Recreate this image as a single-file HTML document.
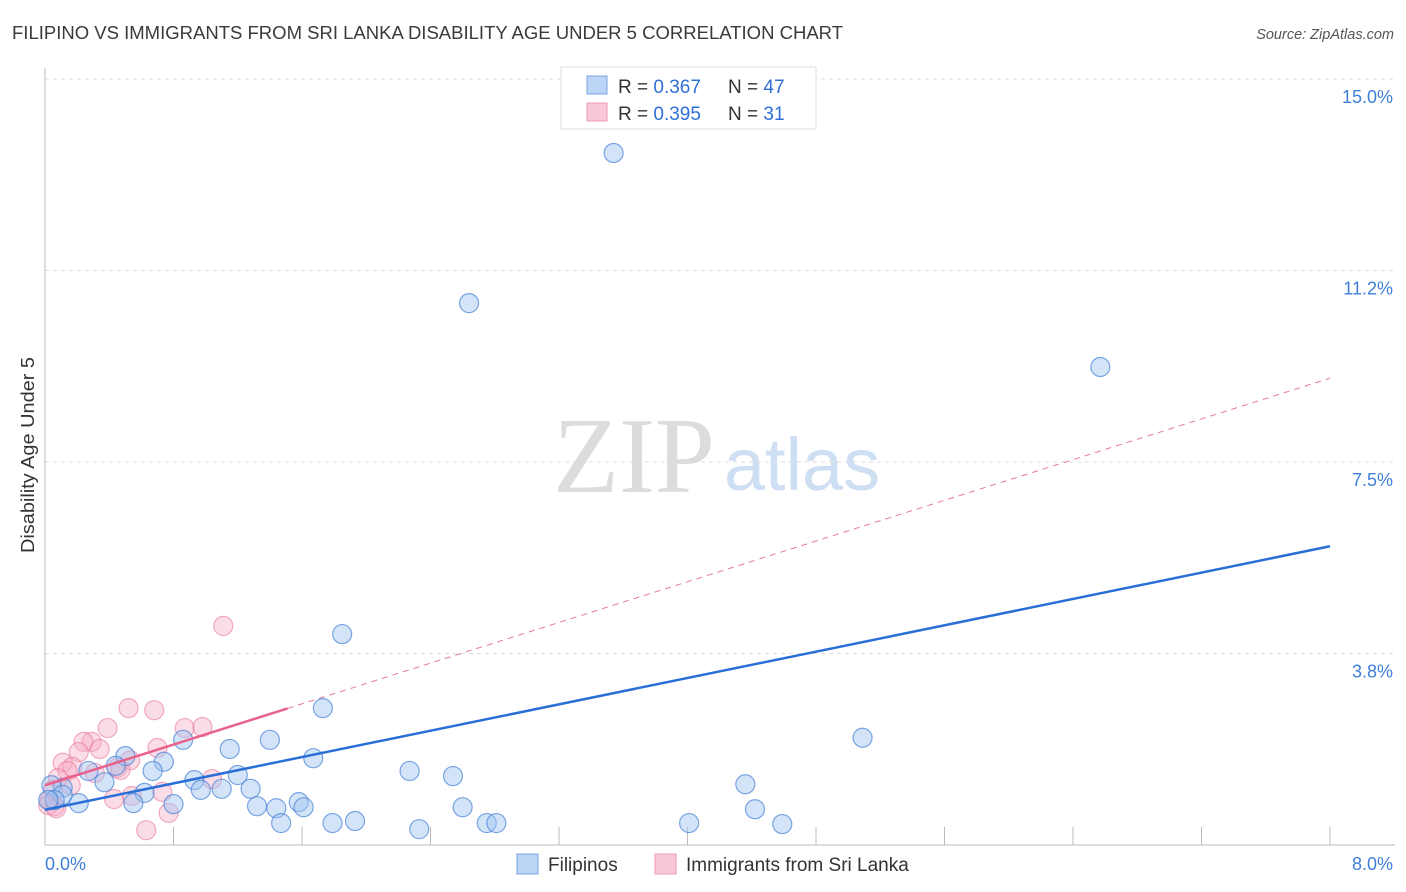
<!DOCTYPE html>
<html><head><meta charset="utf-8"><style>
body{margin:0;background:#fff;font-family:"Liberation Sans",sans-serif;}
#wrap{position:relative;width:1406px;height:892px;overflow:hidden}
</style></head><body>
<div id="wrap">
<svg id="chart" width="1406" height="892" xmlns="http://www.w3.org/2000/svg">
<text x="12" y="39" font-size="18" fill="#3a3a3a" textLength="831" lengthAdjust="spacingAndGlyphs">FILIPINO VS IMMIGRANTS FROM SRI LANKA DISABILITY AGE UNDER 5 CORRELATION CHART</text>
<text x="1394" y="39" font-size="14.5" fill="#555" font-style="italic" text-anchor="end">Source: ZipAtlas.com</text>
<text x="34" y="455" font-size="18" fill="#333" text-anchor="middle" textLength="196" lengthAdjust="spacingAndGlyphs" transform="rotate(-90 34 455)">Disability Age Under 5</text>
<g><text x="634" y="492" font-family="Liberation Serif,serif" font-size="108" fill="#dcdcdc" text-anchor="middle">ZIP</text><text x="802" y="490" font-size="74" fill="#cfdff3" text-anchor="middle">atlas</text></g>
<g id="grid"></g><g id="axes"></g><g id="lines"></g><g id="pts"></g>
<g>
<rect x="561" y="67" width="255" height="62" fill="#fff" stroke="#ddd"/>
<rect x="587" y="76" width="20" height="18" fill="#bcd4f5" stroke="#7aa5e0"/>
<rect x="587" y="103" width="20" height="18" fill="#f9c8d6" stroke="#eb9ab2"/>
<text x="618" y="93" font-size="19" fill="#333">R = <tspan fill="#2f6fd6">0.367</tspan></text>
<text x="728" y="93" font-size="19" fill="#333">N = <tspan fill="#2f6fd6">47</tspan></text>
<text x="618" y="120" font-size="19" fill="#333">R = <tspan fill="#2f6fd6">0.395</tspan></text>
<text x="728" y="120" font-size="19" fill="#333">N = <tspan fill="#2f6fd6"> 31</tspan></text>
</g>
<g>
<rect x="517" y="854" width="21" height="20" fill="#bcd4f5" stroke="#7aa5e0"/>
<text x="548" y="871" font-size="19" fill="#333">Filipinos</text>
<rect x="655" y="854" width="21" height="20" fill="#f9c8d6" stroke="#eb9ab2"/>
<text x="686" y="871" font-size="19" fill="#333">Immigrants from Sri Lanka</text>
</g>
</svg>
</div>
<script>
const yTicks=[3.75,7.5,11.25,15];
const yTickLabels=["3.8%","7.5%","11.2%","15.0%"];
const xTickLabels=["0.0%","8.0%"];
const blueX=[3.54,2.64,6.57,1.85,1.73,5.09,1.40,0.86,1.15,0.50,1.67,0.74,0.67,2.27,2.54,0.27,1.20,0.93,4.36,1.28,0.37,0.97,1.10,0.11,0.04,0.62,0.80,1.32,1.58,1.44,1.61,2.60,4.42,0.55,0.21,1.47,1.79,1.93,2.33,2.75,2.81,4.01,4.59,0.11,0.06,0.02,0.44];
const blueY=[13.55,10.61,9.36,4.13,2.68,2.10,2.06,2.06,1.88,1.74,1.70,1.63,1.45,1.45,1.35,1.45,1.37,1.27,1.19,1.10,1.23,1.08,1.10,1.12,1.17,1.02,0.80,0.76,0.84,0.72,0.74,0.74,0.70,0.82,0.82,0.43,0.43,0.47,0.31,0.43,0.43,0.43,0.41,0.98,0.88,0.88,1.55];
const pinkX=[1.11,0.52,0.68,0.39,0.87,0.98,0.29,0.24,0.70,0.34,0.21,0.53,0.11,0.17,0.45,0.14,0.31,0.08,0.54,0.73,1.04,0.43,0.77,0.63,0.03,0.06,0.05,0.02,0.07,0.47,0.16];
const pinkY=[4.29,2.68,2.64,2.29,2.29,2.31,2.02,2.02,1.90,1.88,1.82,1.66,1.61,1.53,1.51,1.45,1.41,1.31,0.96,1.04,1.29,0.90,0.63,0.29,0.88,0.76,1.08,0.78,0.72,1.47,1.17];
const blueFit=[0.69,5.85];
const pinkFit=[1.17,9.14];
const pinkSolidEnd=1.51;
const X=v=>45+v/8*1285, Y=v=>845-v*51.07;
const NS="http://www.w3.org/2000/svg";
function mk(t,a,p){const e=document.createElementNS(NS,t);for(const k in a)e.setAttribute(k,a[k]);p.appendChild(e);return e;}
const grid=document.getElementById('grid'),axes=document.getElementById('axes'),lines=document.getElementById('lines'),pts=document.getElementById('pts');
yTicks.forEach((v,i)=>{
 const l=mk('line',{x1:45,x2:1395,y1:Y(v),y2:Y(v),stroke:'#ddd','stroke-dasharray':'4,4'},grid);
 
 
 const t=mk('text',{x:1393,y:Y(v)+24,'font-size':18,fill:'#3f7fd9','text-anchor':'end'},grid);t.textContent=yTickLabels[i];
 
 
});
mk('line',{x1:45,x2:45,y1:68,y2:845,stroke:'#bbb'},axes);
mk('line',{x1:45,x2:1395,y1:845,y2:845,stroke:'#bbb'},axes);
for(let i=1;i<=10;i++){const x=X(i*0.8);if(x>1395)break;mk('line',{x1:x,x2:x,y1:827,y2:845,stroke:'#bbb'},axes);}
[0,8].forEach((v,i)=>{const t=mk('text',{x:i?1393:45,y:870,'font-size':18,fill:'#3f7fd9','text-anchor':i?'end':'start'},axes);t.textContent=xTickLabels[i];
 
 });
function draw(xs,ys,fill,stroke,name){xs.forEach((x,i)=>{const c=mk('circle',{cx:X(x),cy:Y(ys[i]),r:9.5,fill:fill,stroke:stroke,'stroke-width':1.2},pts);
 
 });}
draw(pinkX,pinkY,'rgba(246,170,195,0.4)','rgba(232,120,155,0.6)','point-sri-lanka');
draw(blueX,blueY,'rgba(160,195,240,0.45)','rgba(70,130,215,0.7)','point-filipino');
const fy=(f,x)=>f[0]+(f[1]-f[0])*x/8;
let l=mk('line',{x1:X(pinkSolidEnd),y1:Y(fy(pinkFit,pinkSolidEnd)),x2:X(8),y2:Y(pinkFit[1]),stroke:'#e8789b','stroke-width':1,'stroke-dasharray':'6,5'},lines);


l=mk('line',{x1:X(0),y1:Y(pinkFit[0]),x2:X(pinkSolidEnd),y2:Y(fy(pinkFit,pinkSolidEnd)),stroke:'#e8628c','stroke-width':2.5},pts);


l=mk('line',{x1:X(0),y1:Y(blueFit[0]),x2:X(8),y2:Y(blueFit[1]),stroke:'#2a6fd6','stroke-width':2.5},pts);


</script>
</body></html>
